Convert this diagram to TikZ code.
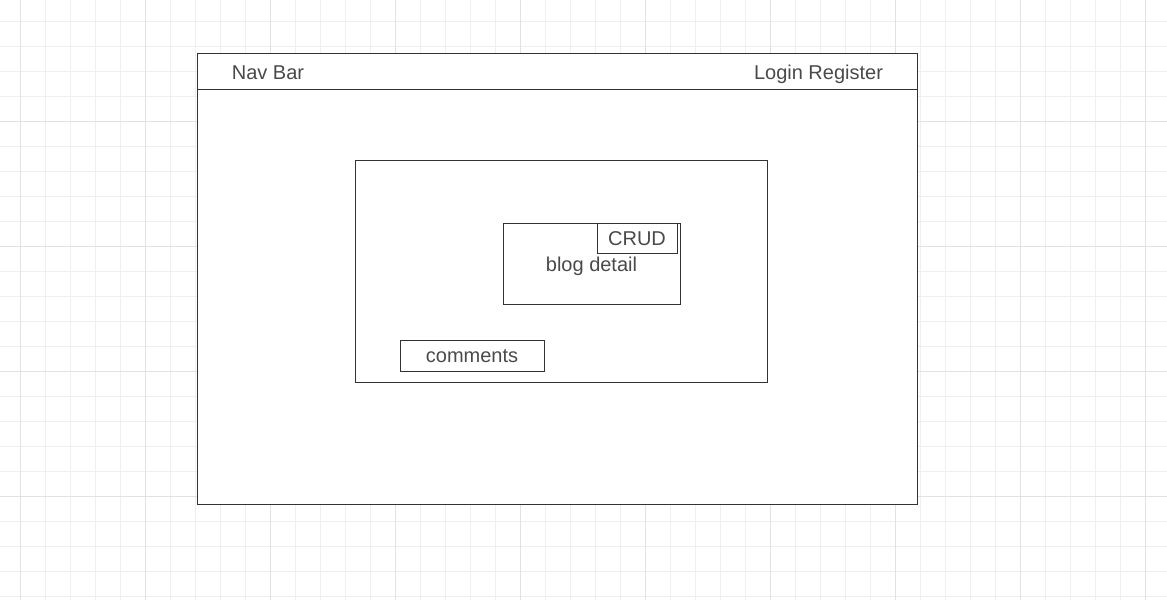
\documentclass[tikz,border=0pt]{standalone}
\usepackage{fontspec}
\setmainfont{Liberation Sans}
\definecolor{gridminor}{HTML}{EFEFEF}
\definecolor{gridmajor}{HTML}{E2E2E2}
\definecolor{linec}{HTML}{333333}
\definecolor{textc}{HTML}{4A4A4A}
\begin{document}
\begin{tikzpicture}[x=1pt,y=-1pt,
  boxline/.style={draw=linec,line width=1pt},
  lbl/.style={text=textc,font=\fontsize{20}{24}\selectfont,inner sep=0pt,anchor=base},
  framebox/.style={boxline,fill=white,inner sep=0pt,outer sep=0pt}]
\useasboundingbox[fill=white] (0,0) rectangle (1167,600);
% grid
\foreach \i in {0,...,46} {
  \pgfmathsetmacro{\xx}{20+25*\i}
  \draw[gridminor,line width=1pt] (\xx,0) -- (\xx,600);
}
\foreach \i in {0,...,24} {
  \pgfmathsetmacro{\yy}{21+25*\i}
  \draw[gridminor,line width=1pt] (0,\yy) -- (1167,\yy);
}
\foreach \i in {0,...,9} {
  \pgfmathsetmacro{\xx}{20+125*\i}
  \draw[gridmajor,line width=1pt] (\xx,0) -- (\xx,600);
}
\foreach \i in {1,...,4} {
  \pgfmathsetmacro{\yy}{-4+125*\i}
  \draw[gridmajor,line width=1pt] (0,\yy) -- (1167,\yy);
}
% outer page
\node[framebox,minimum width=720pt,minimum height=451pt] (page) at (557,278.5) {};
\coordinate (navL) at (197,89);
\coordinate (navR) at (917,89);
\draw[boxline] (navL) -- (navR);
\node[lbl] (nav) at (268,79) {Nav Bar};
\node[lbl] (login) at (818.5,79) {Login Register};
% content box
\node[framebox,minimum width=412pt,minimum height=222pt] (content) at (561,271) {};
% blog detail
\node[framebox,minimum width=177pt,minimum height=81pt] (blog) at (591.5,263.5) {};
\node[lbl] (blogtxt) at (591.5,271.5) {blog detail};
\node[framebox,minimum width=80pt,minimum height=30pt] (crud) at (637,238) {};
\node[lbl] at (637,245) {CRUD};
% comments
\node[framebox,minimum width=144pt,minimum height=31pt] (comments) at (472,355.5) {};
\node[lbl] at (472,362) {comments};
\end{tikzpicture}
\end{document}
